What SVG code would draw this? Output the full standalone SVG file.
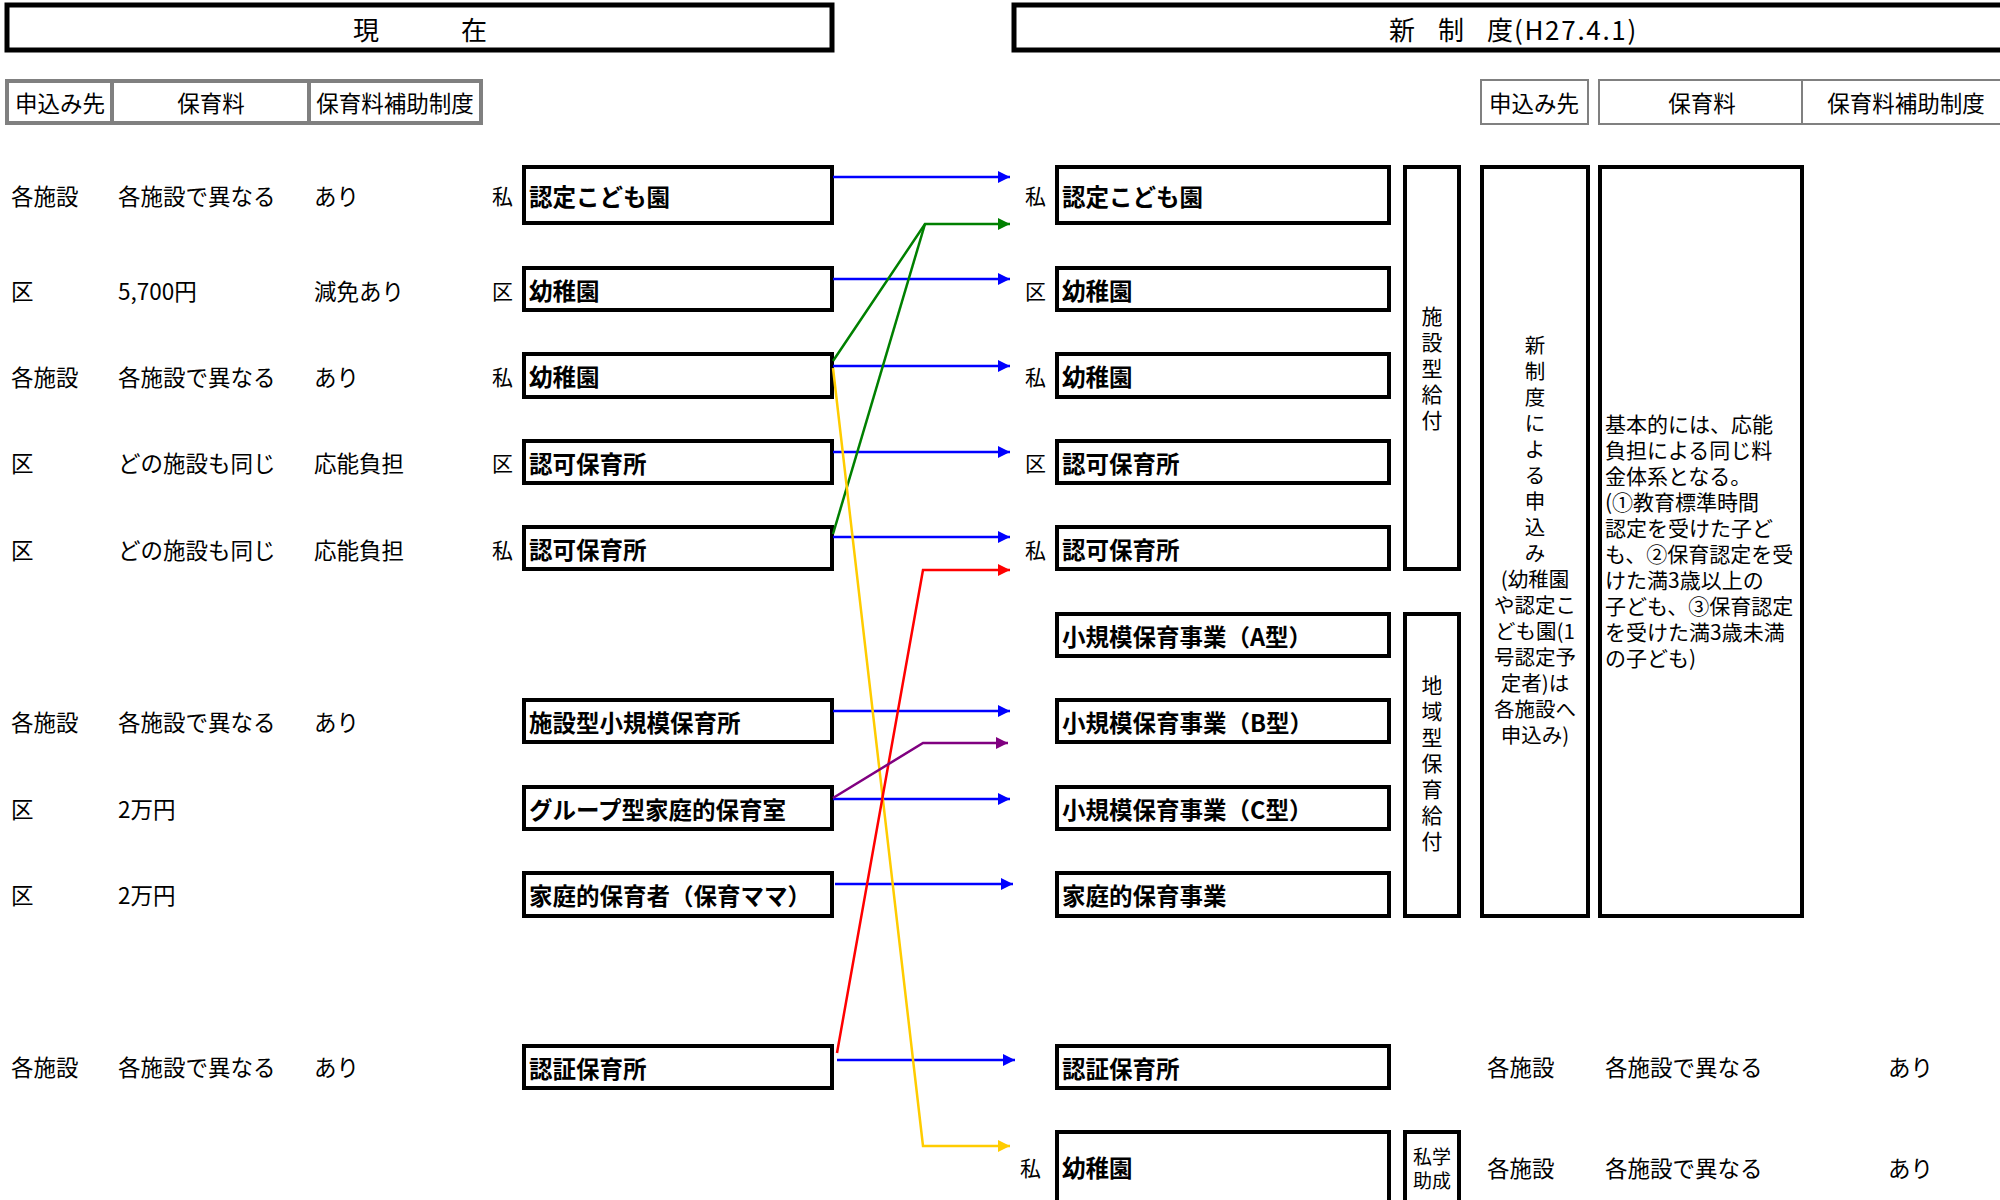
<svg xmlns="http://www.w3.org/2000/svg" width="2000" height="1200" viewBox="0 0 2000 1200">
<style>
.t{font-family:"Noto Sans CJK JP","Noto Sans CJK SC",sans-serif;font-size:22.5px;fill:#000;dominant-baseline:central}
.b{font-weight:bold;font-size:23.5px}
.m{text-anchor:middle}
.box{fill:#fff;stroke:#000;stroke-width:4}
.hdr{fill:#fff;stroke:#000;stroke-width:5}
.gray{fill:#fff;stroke:#808080;stroke-width:4}
.gray2{fill:#fff;stroke:#808080;stroke-width:2}
.c{fill:none;stroke-width:2.5}
</style>
<defs>
<marker id="ab" markerUnits="userSpaceOnUse" markerWidth="13" markerHeight="13" refX="12" refY="6" orient="auto"><path d="M0,0 L12,6 L0,12 z" fill="#0000FF"/></marker>
<marker id="ag" markerUnits="userSpaceOnUse" markerWidth="13" markerHeight="13" refX="12" refY="6" orient="auto"><path d="M0,0 L12,6 L0,12 z" fill="#008000"/></marker>
<marker id="ay" markerUnits="userSpaceOnUse" markerWidth="13" markerHeight="13" refX="12" refY="6" orient="auto"><path d="M0,0 L12,6 L0,12 z" fill="#FFCC00"/></marker>
<marker id="ar" markerUnits="userSpaceOnUse" markerWidth="13" markerHeight="13" refX="12" refY="6" orient="auto"><path d="M0,0 L12,6 L0,12 z" fill="#FF0000"/></marker>
<marker id="ap" markerUnits="userSpaceOnUse" markerWidth="13" markerHeight="13" refX="12" refY="6" orient="auto"><path d="M0,0 L12,6 L0,12 z" fill="#800080"/></marker>
</defs>
<rect width="2000" height="1200" fill="#fff"/>

<g id="header-current">
<rect class="hdr" x="7" y="5" width="825" height="45"/>
<text class="t" x="353" y="28" style="font-size:26px;letter-spacing:10px">現　　在</text>
</g>
<g id="header-new">
<rect class="hdr" x="1014" y="5" width="1000" height="45"/>
<text class="t" y="28" style="font-size:26px"><tspan x="1389">新</tspan><tspan x="1438">制</tspan><tspan x="1487">度</tspan><tspan x="1514" style="letter-spacing:1.7px">(H27.4.1)</tspan></text>
</g>

<g id="table-current">
<rect class="gray" x="7" y="81" width="474" height="42"/>
<line x1="112" y1="81" x2="112" y2="123" stroke="#808080" stroke-width="4"/>
<line x1="309" y1="81" x2="309" y2="123" stroke="#808080" stroke-width="4"/>
<text class="t m" x="60" y="102">申込み先</text>
<text class="t m" x="211" y="102">保育料</text>
<text class="t m" x="395" y="102">保育料補助制度</text>
</g>
<g id="table-new">
<rect class="gray2" x="1481" y="80" width="107" height="44"/>
<rect class="gray2" x="1599" y="80" width="420" height="44"/>
<line x1="1802" y1="80" x2="1802" y2="124" stroke="#808080" stroke-width="2"/>
<text class="t m" x="1534" y="102">申込み先</text>
<text class="t m" x="1702" y="102">保育料</text>
<text class="t m" x="1906" y="102">保育料補助制度</text>
</g>

<g id="current-rows">
<text class="t" x="11" y="195">各施設</text><text class="t" x="118" y="195">各施設で異なる</text><text class="t" x="314" y="195">あり</text><text class="t" x="492" y="195" style="font-size:21px">私</text>
<text class="t" x="11" y="290">区</text><text class="t" x="118" y="290">5,700円</text><text class="t" x="314" y="290">減免あり</text><text class="t" x="492" y="290" style="font-size:21px">区</text>
<text class="t" x="11" y="376">各施設</text><text class="t" x="118" y="376">各施設で異なる</text><text class="t" x="314" y="376">あり</text><text class="t" x="492" y="376" style="font-size:21px">私</text>
<text class="t" x="11" y="462">区</text><text class="t" x="118" y="462">どの施設も同じ</text><text class="t" x="314" y="462">応能負担</text><text class="t" x="492" y="462" style="font-size:21px">区</text>
<text class="t" x="11" y="549">区</text><text class="t" x="118" y="549">どの施設も同じ</text><text class="t" x="314" y="549">応能負担</text><text class="t" x="492" y="549" style="font-size:21px">私</text>
<text class="t" x="11" y="721">各施設</text><text class="t" x="118" y="721">各施設で異なる</text><text class="t" x="314" y="721">あり</text>
<text class="t" x="11" y="808">区</text><text class="t" x="118" y="808">2万円</text>
<text class="t" x="11" y="894">区</text><text class="t" x="118" y="894">2万円</text>
<text class="t" x="11" y="1066">各施設</text><text class="t" x="118" y="1066">各施設で異なる</text><text class="t" x="314" y="1066">あり</text>
</g>

<g id="cur-nintei-kodomoen"><rect class="box" x="524" y="167" width="308" height="56"/><text class="t b" x="529" y="196">認定こども園</text></g>
<g id="cur-youchien-ku"><rect class="box" x="524" y="268" width="308" height="42"/><text class="t b" x="529" y="290">幼稚園</text></g>
<g id="cur-youchien-shi"><rect class="box" x="524" y="354" width="308" height="43"/><text class="t b" x="529" y="376">幼稚園</text></g>
<g id="cur-ninka-ku"><rect class="box" x="524" y="441" width="308" height="42"/><text class="t b" x="529" y="463">認可保育所</text></g>
<g id="cur-ninka-shi"><rect class="box" x="524" y="527" width="308" height="42"/><text class="t b" x="529" y="549">認可保育所</text></g>
<g id="cur-shisetsu-small"><rect class="box" x="524" y="700" width="308" height="42"/><text class="t b" x="529" y="722">施設型小規模保育所</text></g>
<g id="cur-group"><rect class="box" x="524" y="787" width="308" height="42"/><text class="t b" x="529" y="809">グループ型家庭的保育室</text></g>
<g id="cur-katei"><rect class="box" x="524" y="873" width="308" height="43"/><text class="t b" x="529" y="895">家庭的保育者（保育ママ）</text></g>
<g id="cur-ninsho"><rect class="box" x="524" y="1046" width="308" height="42"/><text class="t b" x="529" y="1068">認証保育所</text></g>

<g id="new-prefixes">
<text class="t" x="1025" y="195" style="font-size:21px">私</text>
<text class="t" x="1025" y="290" style="font-size:21px">区</text>
<text class="t" x="1025" y="376" style="font-size:21px">私</text>
<text class="t" x="1025" y="462" style="font-size:21px">区</text>
<text class="t" x="1025" y="549" style="font-size:21px">私</text>
<text class="t" x="1020" y="1167" style="font-size:21px">私</text>
</g>
<g id="new-nintei-kodomoen"><rect class="box" x="1057" y="167" width="332" height="56"/><text class="t b" x="1062" y="196">認定こども園</text></g>
<g id="new-youchien-ku"><rect class="box" x="1057" y="268" width="332" height="42"/><text class="t b" x="1062" y="290">幼稚園</text></g>
<g id="new-youchien-shi"><rect class="box" x="1057" y="354" width="332" height="43"/><text class="t b" x="1062" y="376">幼稚園</text></g>
<g id="new-ninka-ku"><rect class="box" x="1057" y="441" width="332" height="42"/><text class="t b" x="1062" y="463">認可保育所</text></g>
<g id="new-ninka-shi"><rect class="box" x="1057" y="527" width="332" height="42"/><text class="t b" x="1062" y="549">認可保育所</text></g>
<g id="new-small-a"><rect class="box" x="1057" y="614" width="332" height="42"/><text class="t b" x="1062" y="636">小規模保育事業（A型）</text></g>
<g id="new-small-b"><rect class="box" x="1057" y="700" width="332" height="42"/><text class="t b" x="1062" y="722">小規模保育事業（B型）</text></g>
<g id="new-small-c"><rect class="box" x="1057" y="787" width="332" height="42"/><text class="t b" x="1062" y="809">小規模保育事業（C型）</text></g>
<g id="new-katei"><rect class="box" x="1057" y="873" width="332" height="43"/><text class="t b" x="1062" y="895">家庭的保育事業</text></g>
<g id="new-ninsho"><rect class="box" x="1057" y="1046" width="332" height="42"/><text class="t b" x="1062" y="1068">認証保育所</text></g>
<g id="new-youchien-bottom"><rect class="box" x="1057" y="1132" width="332" height="80"/><text class="t b" x="1062" y="1167">幼稚園</text></g>

<g id="shisetsu-kyufu"><rect class="box" x="1405" y="167" width="54" height="402"/>
<text class="t m" style="font-size:21px"><tspan x="1432" y="315">施</tspan><tspan x="1432" y="341">設</tspan><tspan x="1432" y="367">型</tspan><tspan x="1432" y="393">給</tspan><tspan x="1432" y="419">付</tspan></text></g>
<g id="chiiki-kyufu"><rect class="box" x="1405" y="614" width="54" height="302"/>
<text class="t m" style="font-size:21px"><tspan x="1432" y="684">地</tspan><tspan x="1432" y="710">域</tspan><tspan x="1432" y="736">型</tspan><tspan x="1432" y="762">保</tspan><tspan x="1432" y="788">育</tspan><tspan x="1432" y="814">給</tspan><tspan x="1432" y="840">付</tspan></text></g>
<g id="shigaku"><rect class="box" x="1405" y="1132" width="54" height="80"/>
<text class="t m" style="font-size:19px"><tspan x="1432" y="1155">私学</tspan><tspan x="1432" y="1179">助成</tspan></text></g>

<g id="moushikomi"><rect class="box" x="1482" y="167" width="106" height="749"/>
<text class="t m" style="font-size:20.5px"><tspan x="1535" y="344">新</tspan><tspan x="1535" y="370">制</tspan><tspan x="1535" y="396">度</tspan><tspan x="1535" y="422">に</tspan><tspan x="1535" y="448">よ</tspan><tspan x="1535" y="474">る</tspan><tspan x="1535" y="500">申</tspan><tspan x="1535" y="526">込</tspan><tspan x="1535" y="552">み</tspan><tspan x="1535" y="578">(幼稚園</tspan><tspan x="1535" y="604">や認定こ</tspan><tspan x="1535" y="630">ども園(1</tspan><tspan x="1535" y="656">号認定予</tspan><tspan x="1535" y="682">定者)は</tspan><tspan x="1535" y="708">各施設へ</tspan><tspan x="1535" y="734">申込み)</tspan></text></g>

<g id="hoikuryo-note"><rect class="box" x="1600" y="167" width="202" height="749"/>
<text class="t" style="font-size:21px"><tspan x="1605" y="423">基本的には、応能</tspan><tspan x="1605" y="449">負担による同じ料</tspan><tspan x="1605" y="475">金体系となる。</tspan><tspan x="1605" y="501">(①教育標準時間</tspan><tspan x="1605" y="527">認定を受けた子ど</tspan><tspan x="1605" y="553">も、②保育認定を受</tspan><tspan x="1605" y="579">けた満3歳以上の</tspan><tspan x="1605" y="605">子ども、③保育認定</tspan><tspan x="1605" y="631">を受けた満3歳未満</tspan><tspan x="1605" y="657">の子ども)</tspan></text></g>

<g id="new-rows">
<text class="t" x="1487" y="1066">各施設</text><text class="t" x="1605" y="1066">各施設で異なる</text><text class="t" x="1888" y="1066">あり</text>
<text class="t" x="1487" y="1167">各施設</text><text class="t" x="1605" y="1167">各施設で異なる</text><text class="t" x="1888" y="1167">あり</text>
</g>

<g id="connectors">
<path class="c" stroke="#0000FF" d="M833,177 H1010" marker-end="url(#ab)"/>
<path class="c" stroke="#0000FF" d="M833,279 H1010" marker-end="url(#ab)"/>
<path class="c" stroke="#0000FF" d="M833,366 H1010" marker-end="url(#ab)"/>
<path class="c" stroke="#0000FF" d="M833,452 H1010" marker-end="url(#ab)"/>
<path class="c" stroke="#0000FF" d="M833,537 H1010" marker-end="url(#ab)"/>
<path class="c" stroke="#0000FF" d="M833,711 H1010" marker-end="url(#ab)"/>
<path class="c" stroke="#0000FF" d="M833,799 H1010" marker-end="url(#ab)"/>
<path class="c" stroke="#0000FF" d="M835,884 H1013" marker-end="url(#ab)"/>
<path class="c" stroke="#0000FF" d="M837,1060 H1015" marker-end="url(#ab)"/>
<path class="c" stroke="#008000" stroke-width="2" d="M833,534 L925,224"/>
<path class="c" stroke="#008000" stroke-width="2" d="M833,361 L925,224 H1010" marker-end="url(#ag)"/>
<path class="c" stroke="#FFCC00" stroke-width="2" d="M833,368 L923,1146 H1010" marker-end="url(#ay)"/>
<path class="c" stroke="#FF0000" stroke-width="2" d="M837,1053 L923,570 H1010" marker-end="url(#ar)"/>
<path class="c" stroke="#800080" stroke-width="2" d="M833,798 L923,743 H1008" marker-end="url(#ap)"/>
</g>
</svg>
